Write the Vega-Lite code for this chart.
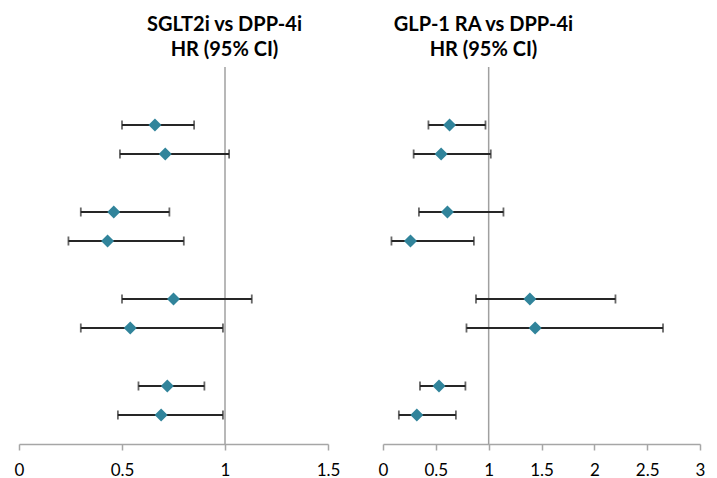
{
  "$schema": "https://vega.github.io/schema/vega-lite/v6.json",
  "padding": {"left": 14, "top": 15, "right": 5, "bottom": 5},
  "background": "white",
  "spacing": 55,
  "bounds": "flush",
  "config": {
    "view": {"stroke": null},
    "axis": {"labelFont": "Lato", "labelFontSize": 17, "labelColor": "#000000", "domainColor": "#a6a6a6", "tickColor": "#a6a6a6", "domainWidth": 1.5, "tickWidth": 1.5, "tickSize": 6, "grid": false, "labelPadding": 12, "labelFlush": false, "format": "~g"},
    "title": {"font": "Lato", "fontSize": 20, "fontWeight": "bold", "color": "#000000", "lineHeight": 25, "offset": 6}
  },
  "datasets": {
    "sglt2": [
      {"row": 11, "hr": 0.66, "lo": 0.50, "hi": 0.85},
      {"row": 10, "hr": 0.71, "lo": 0.49, "hi": 1.02},
      {"row": 8, "hr": 0.46, "lo": 0.30, "hi": 0.73},
      {"row": 7, "hr": 0.43, "lo": 0.24, "hi": 0.80},
      {"row": 5, "hr": 0.75, "lo": 0.50, "hi": 1.13},
      {"row": 4, "hr": 0.54, "lo": 0.30, "hi": 0.99},
      {"row": 2, "hr": 0.72, "lo": 0.58, "hi": 0.90},
      {"row": 1, "hr": 0.69, "lo": 0.48, "hi": 0.99}
    ],
    "glp1": [
      {"row": 11, "hr": 0.63, "lo": 0.43, "hi": 0.97},
      {"row": 10, "hr": 0.55, "lo": 0.29, "hi": 1.02},
      {"row": 8, "hr": 0.61, "lo": 0.34, "hi": 1.14},
      {"row": 7, "hr": 0.26, "lo": 0.08, "hi": 0.86},
      {"row": 5, "hr": 1.39, "lo": 0.88, "hi": 2.20},
      {"row": 4, "hr": 1.44, "lo": 0.79, "hi": 2.65},
      {"row": 2, "hr": 0.53, "lo": 0.35, "hi": 0.78},
      {"row": 1, "hr": 0.32, "lo": 0.15, "hi": 0.69}
    ],
    "ref": [{"v": 1}]
  },
  "hconcat": [
    {
      "width": 309,
      "height": 377,
      "title": {"text": ["SGLT2i vs DPP-4i", "HR (95% CI)"], "dx": 51},
      "layer": [
        {
          "data": {"name": "ref"},
          "mark": {"type": "rule", "color": "#a0a0a0", "strokeWidth": 1.5},
          "encoding": {"x": {"field": "v", "type": "quantitative", "scale": {"domain": [0, 1.5], "nice": false, "zero": false}}}
        },
        {
          "data": {"name": "sglt2"},
          "mark": {"type": "errorbar", "color": "#262626", "thickness": 1.8, "ticks": {"size": 9, "thickness": 1.8, "color": "#262626"}},
          "encoding": {
            "x": {"field": "lo", "type": "quantitative", "scale": {"domain": [0, 1.5], "nice": false, "zero": false}, "axis": {"values": [0, 0.5, 1, 1.5], "title": null}},
            "x2": {"field": "hi"},
            "y": {"field": "row", "type": "quantitative", "scale": {"domain": [0, 13], "nice": false}, "axis": null}
          }
        },
        {
          "data": {"name": "sglt2"},
          "mark": {"type": "point", "shape": "diamond", "filled": true, "color": "#31849b", "size": 170, "opacity": 1},
          "encoding": {
            "x": {"field": "hr", "type": "quantitative", "scale": {"domain": [0, 1.5], "nice": false, "zero": false}},
            "y": {"field": "row", "type": "quantitative", "scale": {"domain": [0, 13], "nice": false}}
          }
        }
      ]
    },
    {
      "width": 317,
      "height": 377,
      "title": {"text": ["GLP-1 RA vs DPP-4i", "HR (95% CI)"], "dx": -58},
      "layer": [
        {
          "data": {"name": "ref"},
          "mark": {"type": "rule", "color": "#a0a0a0", "strokeWidth": 1.5},
          "encoding": {"x": {"field": "v", "type": "quantitative", "scale": {"domain": [0, 3], "nice": false, "zero": false}}}
        },
        {
          "data": {"name": "glp1"},
          "mark": {"type": "errorbar", "color": "#262626", "thickness": 1.8, "ticks": {"size": 9, "thickness": 1.8, "color": "#262626"}},
          "encoding": {
            "x": {"field": "lo", "type": "quantitative", "scale": {"domain": [0, 3], "nice": false, "zero": false}, "axis": {"values": [0, 0.5, 1, 1.5, 2, 2.5, 3], "title": null}},
            "x2": {"field": "hi"},
            "y": {"field": "row", "type": "quantitative", "scale": {"domain": [0, 13], "nice": false}, "axis": null}
          }
        },
        {
          "data": {"name": "glp1"},
          "mark": {"type": "point", "shape": "diamond", "filled": true, "color": "#31849b", "size": 170, "opacity": 1},
          "encoding": {
            "x": {"field": "hr", "type": "quantitative", "scale": {"domain": [0, 3], "nice": false, "zero": false}},
            "y": {"field": "row", "type": "quantitative", "scale": {"domain": [0, 13], "nice": false}}
          }
        }
      ]
    }
  ]
}
